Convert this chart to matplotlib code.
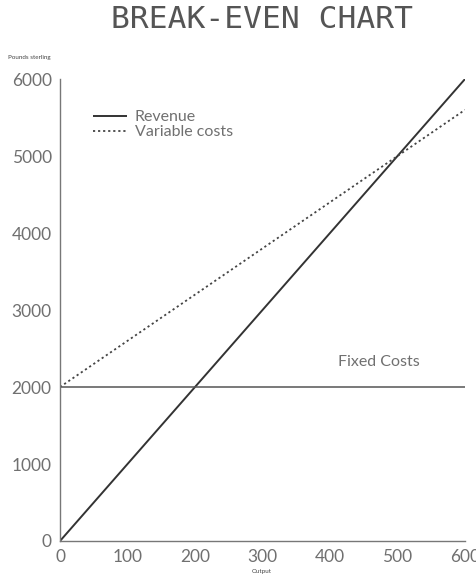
import matplotlib
matplotlib.use("Agg")
import matplotlib.pyplot as plt
import numpy as np

# Break-even data (output in units, values in pounds sterling)
output = [0, 600]
revenue = [0, 6000]
variable_costs = [2000, 5600]
fixed_costs = [2000, 2000]

x_ticks = [0, 100, 200, 300, 400, 500, 600]
y_ticks = [0, 1000, 2000, 3000, 4000, 5000, 6000]

plt.rcParams['font.family'] = ['Lato', 'DejaVu Sans']
text_col = '#707070'

fig = plt.figure(figsize=(4.77, 5.77), dpi=100)
ax = fig.add_axes([0.1258, 0.0624, 0.849, 0.8006])

ax.plot(output, revenue, color='#333333', lw=1.4, solid_capstyle='butt', label='Revenue')
ax.plot(output, variable_costs, color='#444444', lw=1.3, linestyle=(0, (1.2, 1.6)),
        label='Variable costs')
ax.plot(output, fixed_costs, color='#555555', lw=1.1)

ax.set_xlim(0, 600)
ax.set_ylim(0, 6000)
ax.set_xticks(x_ticks)
ax.set_yticks(y_ticks)
ax.tick_params(length=0, labelsize=12.5, labelcolor=text_col, pad=6)

for side in ['top', 'right']:
    ax.spines[side].set_visible(False)
for side in ['left', 'bottom']:
    ax.spines[side].set_color('#777777')
    ax.spines[side].set_linewidth(1.0)

ax.text(533, 2230, 'Fixed Costs', color=text_col, fontsize=11.5,
        ha='right', va='bottom')

leg = ax.legend(loc='upper left', bbox_to_anchor=(93 / 477, 1 - 110 / 577),
                bbox_transform=fig.transFigure, frameon=False, fontsize=11.5,
                handlelength=2.1, handletextpad=0.5, labelspacing=0.05,
                borderpad=0, borderaxespad=0)
for t in leg.get_texts():
    t.set_color(text_col)

fig.text(0.549, 1 - 19 / 577, 'BREAK-EVEN CHART', family='DejaVu Sans Mono',
         fontsize=22.5, color='#555555', ha='center', va='center')
fig.text(8 / 477, 1 - 58 / 577, 'Pounds sterling', fontsize=4.5, color='#444444',
         ha='left', va='center')
fig.text(262 / 477, 1 - 572 / 577, 'Output', fontsize=4.5, color='#444444',
         ha='center', va='center')

fig.savefig('out.png', dpi=100, facecolor='white')
